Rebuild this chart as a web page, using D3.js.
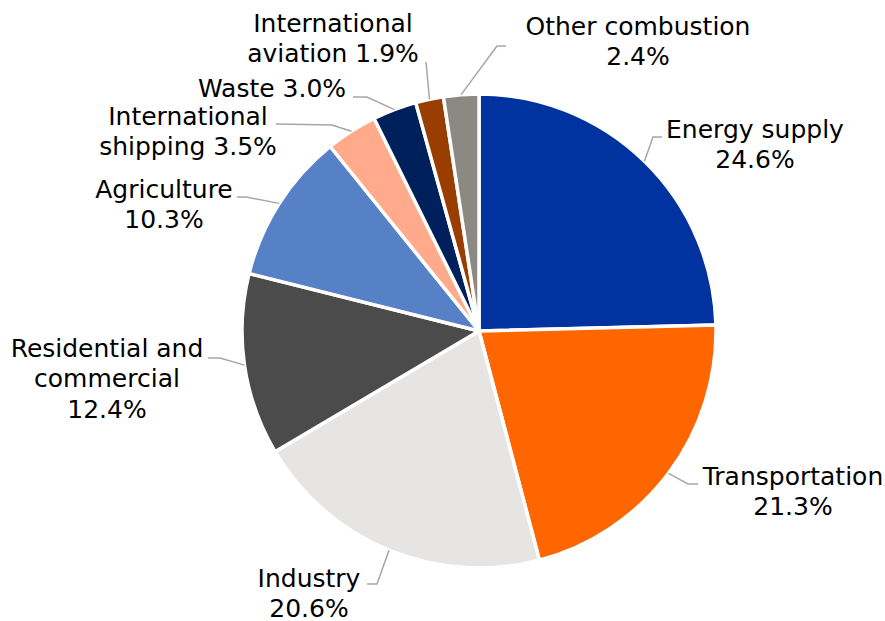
<!DOCTYPE html>
<html>
<head>
<meta charset="utf-8">
<script src="https://cdn.jsdelivr.net/npm/d3@7"></script>
<style>
  html, body { margin: 0; padding: 0; background: #fff; }
  svg { display: block; }
  text { font-family: "DejaVu Sans", Verdana, sans-serif; font-size: 25px; fill: #000; }
</style>
</head>
<body>
<svg id="chart" width="885" height="621"></svg>
<script>
// Greenhouse gas emissions by sector (share of total, %)
const sectors = [
  "Energy supply", "Transportation", "Industry", "Residential and commercial",
  "Agriculture", "International shipping", "Waste", "International aviation",
  "Other combustion"
];
const shares = [24.6, 21.3, 20.6, 12.4, 10.3, 3.5, 3.0, 1.9, 2.4];
const colors = [
  "#0033a0", "#ff6600", "#e6e5e3", "#4b4b4b", "#5681c6",
  "#ffaa8a", "#00205b", "#993d00", "#8c8883"
];
// Label text lines (the value is appended from the data)
const labelLines = [
  ["Energy supply"], ["Transportation"], ["Industry"], ["Residential and", "commercial"],
  ["Agriculture"], ["International", "shipping"], ["Waste"], ["International", "aviation"],
  ["Other combustion"]
];
// true: value goes on the last text line, false: on its own line
const valueInline = [false, false, false, false, false, true, true, true, false];

// Layout of labels: text centre x, first baseline y, leader elbow and end
const labelLayout = [
  { x: 755, y: 138, elbow: [653, 137], end: [662, 137] },
  { x: 793, y: 485, elbow: [688, 484], end: [698, 484] },
  { x: 309, y: 587, elbow: [377, 584], end: [367, 584] },
  { x: 107, y: 357, elbow: [220, 358], end: [208, 358] },
  { x: 164, y: 198, elbow: [246, 197], end: [237, 197] },
  { x: 188, y: 125, elbow: [332, 125], end: [276, 124] },
  { x: 272, y: 97,  elbow: [367, 97],  end: [353, 97] },
  { x: 333, y: 32,  elbow: [426, 62],  end: [426, 62] },
  { x: 638, y: 35,  elbow: [497, 46],  end: [506, 46] }
];

const data = sectors.map((s, i) => ({ sector: s, value: shares[i], color: colors[i], i }));

const svg = d3.select("#chart");
const cx = 479, cy = 331, r = 237;
const lineH = 30.3;

const pie = d3.pie().value(d => d.value).sort(null);
const arcs = pie(data);
const arc = d3.arc().innerRadius(0).outerRadius(r);

const g = svg.append("g").attr("transform", `translate(${cx},${cy})`);

g.selectAll("path.slice")
  .data(arcs)
  .join("path")
  .attr("class", "slice")
  .attr("d", arc)
  .attr("fill", d => d.data.color)
  .attr("stroke", "#fff")
  .attr("stroke-width", 3.5)
  .attr("stroke-linejoin", "round");

// Leader lines from the slice rim to the label
const edgePoint = a => {
  const m = (a.startAngle + a.endAngle) / 2;
  return [cx + r * Math.sin(m), cy - r * Math.cos(m)];
};

svg.append("g").selectAll("polyline")
  .data(arcs)
  .join("polyline")
  .attr("points", d => {
    const L = labelLayout[d.data.i];
    return [edgePoint(d), L.elbow, L.end].map(p => p.join(",")).join(" ");
  })
  .attr("fill", "none")
  .attr("stroke", "#a6a6a6")
  .attr("stroke-width", 1.5);

// Labels
const fmt = v => d3.format(".1f")(v) + "%";
const labels = svg.append("g").selectAll("text")
  .data(arcs)
  .join("text")
  .attr("text-anchor", "middle")
  .attr("x", d => labelLayout[d.data.i].x)
  .attr("y", d => labelLayout[d.data.i].y);

labels.each(function(d) {
  const i = d.data.i;
  const lines = labelLines[i].slice();
  if (valueInline[i]) lines[lines.length - 1] += " " + fmt(d.data.value);
  else lines.push(fmt(d.data.value));
  const t = d3.select(this);
  lines.forEach((ln, k) => {
    t.append("tspan")
      .attr("x", labelLayout[i].x)
      .attr("dy", k === 0 ? 0 : lineH)
      .text(ln);
  });
});
</script>
</body>
</html>
